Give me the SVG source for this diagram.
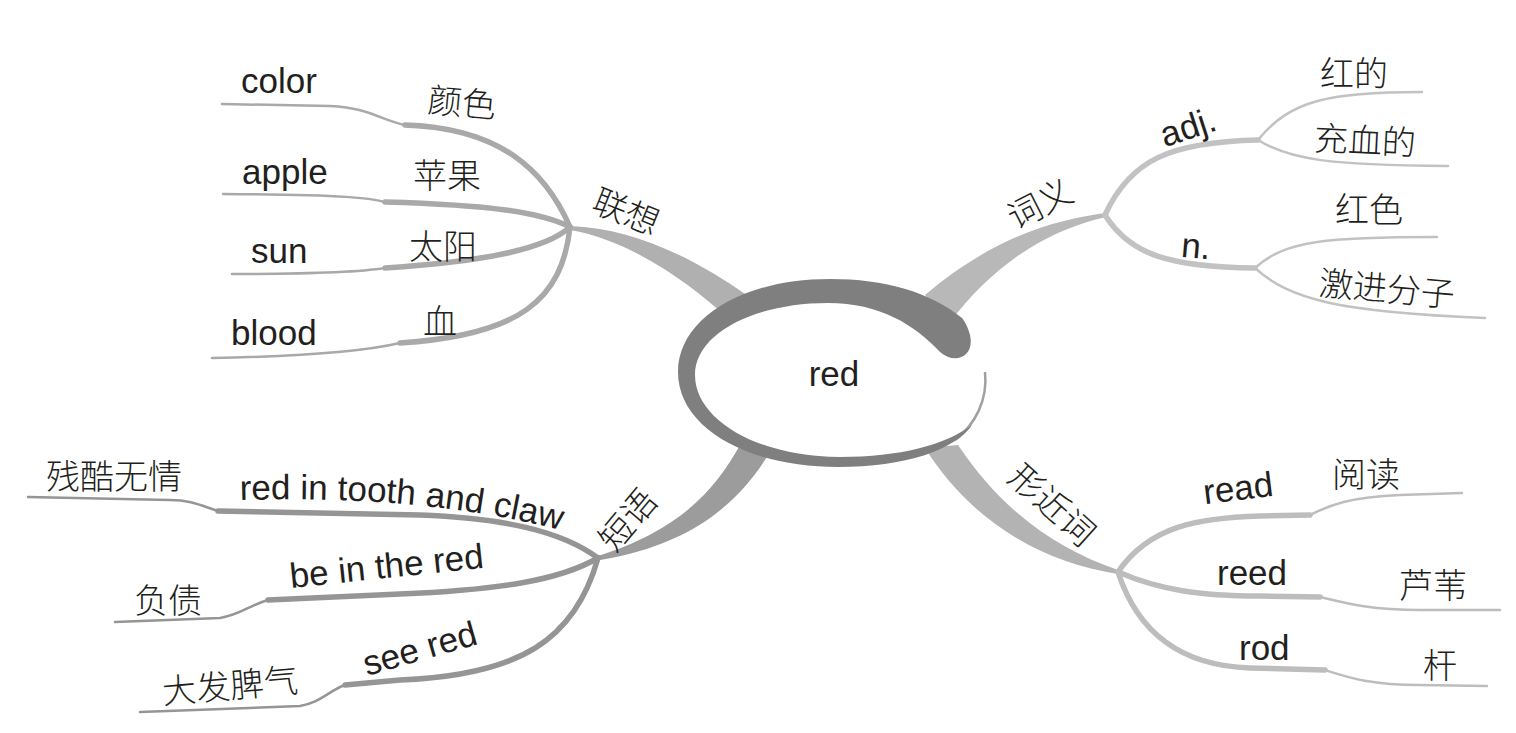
<svg xmlns="http://www.w3.org/2000/svg" width="1516" height="733" viewBox="0 0 1516 733">
<style>
.en{font-family:"Liberation Sans",Arial,sans-serif;font-size:35px;fill:#231f20}
.zh{font-family:"Noto Sans CJK SC",sans-serif;font-size:34px;font-weight:300;fill:#231f20}
.b1{fill:none;stroke:#a9a9a9;stroke-linecap:round}
.b2{fill:none;stroke:#c2c2c2;stroke-linecap:round}
.b3{fill:none;stroke:#959595;stroke-linecap:round}
.b4{fill:none;stroke:#bdbdbd;stroke-linecap:round}
.thick{stroke-width:5.5}
.thin{stroke-width:2.5}
</style>
<defs>
  <path id="tp1" d="M240,500 C350,497 470,503 585,537"/>
</defs>
<rect width="1516" height="733" fill="#ffffff"/>
<g id="connectors">
  <path d="M570,226 C630,228 690,255 748,296 L730,320 C690,283 630,240 570,230 Z" fill="#b0b0b0"/>
  <path d="M1106,213 C1050,220 990,240 925,295 L950,322 C990,270 1040,232 1106,217 Z" fill="#b8b8b8"/>
  <path d="M740,445 C715,490 680,530 598,556 L600,560 C690,545 738,505 770,452 Z" fill="#9c9c9c"/>
  <path d="M925,448 C970,520 1040,562 1118,574 L1118,570 C1060,550 1005,515 958,445 Z" fill="#b3b3b3"/>
  <path class="b1 thick" d="M570,227 C545,170 500,128 405,125"/>
  <path class="b1 thin" d="M405,125 C380,120 370,108 330,106 L222,104"/>
  <path class="b1 thick" d="M570,227 C540,212 490,205 385,202"/>
  <path class="b1 thin" d="M385,202 C370,198 350,195 223,194"/>
  <path class="b1 thick" d="M570,227 C545,250 480,262 385,268"/>
  <path class="b1 thin" d="M385,268 C360,272 320,274 232,274"/>
  <path class="b1 thick" d="M570,227 C562,300 520,335 400,343"/>
  <path class="b1 thin" d="M400,343 C370,350 320,356 212,358"/>
  <path class="b2 thick" d="M1105,215 C1130,160 1170,142 1258,140"/>
  <path class="b2 thin" d="M1258,140 C1290,100 1330,92 1422,92"/>
  <path class="b2 thin" d="M1258,140 C1290,160 1330,165 1448,166"/>
  <path class="b2 thick" d="M1105,215 C1130,255 1170,267 1255,268"/>
  <path class="b2 thin" d="M1255,268 C1285,240 1330,237 1437,237"/>
  <path class="b2 thin" d="M1255,268 C1290,300 1340,312 1485,318"/>
  <path class="b3 thick" d="M598,558 C560,530 500,518 420,515 L218,511"/>
  <path class="b3 thin" d="M218,511 C200,505 190,500 170,500 L28,497"/>
  <path class="b3 thick" d="M598,558 C560,580 500,590 400,594 L268,600"/>
  <path class="b3 thin" d="M268,600 C250,605 240,615 220,618 L115,622"/>
  <path class="b3 thick" d="M598,558 C575,640 520,675 400,680 L345,685"/>
  <path class="b3 thin" d="M345,685 C330,690 320,703 300,706 L140,712"/>
  <path class="b4 thick" d="M1118,572 C1150,525 1200,518 1260,516 L1310,515"/>
  <path class="b4 thin" d="M1310,515 C1330,505 1350,497 1400,495 L1462,493"/>
  <path class="b4 thick" d="M1118,572 C1160,590 1200,596 1260,596 L1320,597"/>
  <path class="b4 thin" d="M1320,597 C1345,603 1370,610 1420,610 L1500,610"/>
  <path class="b4 thick" d="M1118,572 C1140,640 1190,666 1250,668 L1325,670"/>
  <path class="b4 thin" d="M1325,670 C1350,678 1370,685 1420,685 L1487,686"/>
</g>
<g id="center">
  <ellipse cx="840" cy="380" rx="145" ry="77" fill="#ffffff"/>
  <path d="M985,372 C988,400 975,425 955,440" fill="none" stroke="#a0a0a0" stroke-width="2.5"/>
  <path d="M962,318 C930,292 885,279 830,279 C740,279 678,320 678,372 C678,428 748,467 838,467 C905,467 955,450 972,425 C945,445 900,457 840,457 C758,457 695,420 695,375 C695,333 755,303 828,303 C880,303 915,325 940,352 C955,365 975,357 970,335 C968,327 965,322 962,318 Z" fill="#7f7f7f"/>
  <text class="en" x="834" y="386" text-anchor="middle">red</text>
</g>
<g id="n-lianxiang"><text class="zh" transform="translate(626,212) rotate(22)" x="0" y="12" text-anchor="middle">联想</text></g>
<g id="n-color"><text class="en" x="241" y="93">color</text></g>
<g id="n-yanse"><text class="zh" transform="translate(462,103) rotate(5)" x="0" y="12" text-anchor="middle">颜色</text></g>
<g id="n-apple"><text class="en" x="242" y="184">apple</text></g>
<g id="n-pingguo"><text class="zh" x="413" y="188">苹果</text></g>
<g id="n-sun"><text class="en" x="251" y="263">sun</text></g>
<g id="n-taiyang"><text class="zh" x="409" y="259">太阳</text></g>
<g id="n-blood"><text class="en" x="231" y="345">blood</text></g>
<g id="n-xue"><text class="zh" x="423" y="334">血</text></g>
<g id="n-ciyi"><text class="zh" transform="translate(1040,204) rotate(-27)" x="0" y="12" text-anchor="middle">词义</text></g>
<g id="n-adj"><text class="en" transform="translate(1188,127) rotate(-18)" x="0" y="12" text-anchor="middle">adj.</text></g>
<g id="n-hongde"><text class="zh" x="1320" y="86">红的</text></g>
<g id="n-chongxuede"><text class="zh" transform="translate(1365,141) rotate(3)" x="0" y="12" text-anchor="middle">充血的</text></g>
<g id="n-n"><text class="en" transform="translate(1196,246) rotate(5)" x="0" y="12" text-anchor="middle">n.</text></g>
<g id="n-hongse"><text class="zh" x="1335" y="222">红色</text></g>
<g id="n-jijinfenzi"><text class="zh" transform="translate(1387,289) rotate(5)" x="0" y="12" text-anchor="middle">激进分子</text></g>
<g id="n-duanyu"><text class="zh" transform="translate(628,520) rotate(-50)" x="0" y="12" text-anchor="middle">短语</text></g>
<g id="n-canku"><text class="zh" x="46" y="489">残酷无情</text></g>
<g id="n-tooth"><text class="en"><textPath href="#tp1">red in tooth and claw</textPath></text></g>
<g id="n-fuzhai"><text class="zh" x="134" y="613">负债</text></g>
<g id="n-beinthered"><text class="en" transform="translate(291,588) rotate(-6)" x="0" y="0">be in the red</text></g>
<g id="n-dafa"><text class="zh" transform="translate(230,686) rotate(-5)" x="0" y="12" text-anchor="middle">大发脾气</text></g>
<g id="n-seered"><text class="en" transform="translate(367,676) rotate(-16)" x="0" y="0">see red</text></g>
<g id="n-xingjinci"><text class="zh" transform="translate(1052,505) rotate(42)" x="0" y="12" text-anchor="middle">形近词</text></g>
<g id="n-read"><text class="en" transform="translate(1238,488) rotate(-7)" x="0" y="12" text-anchor="middle">read</text></g>
<g id="n-yuedu"><text class="zh" x="1332" y="487">阅读</text></g>
<g id="n-reed"><text class="en" x="1217" y="585">reed</text></g>
<g id="n-luwei"><text class="zh" x="1399" y="598">芦苇</text></g>
<g id="n-rod"><text class="en" x="1239" y="660">rod</text></g>
<g id="n-gan"><text class="zh" x="1423" y="678">杆</text></g>
</svg>
